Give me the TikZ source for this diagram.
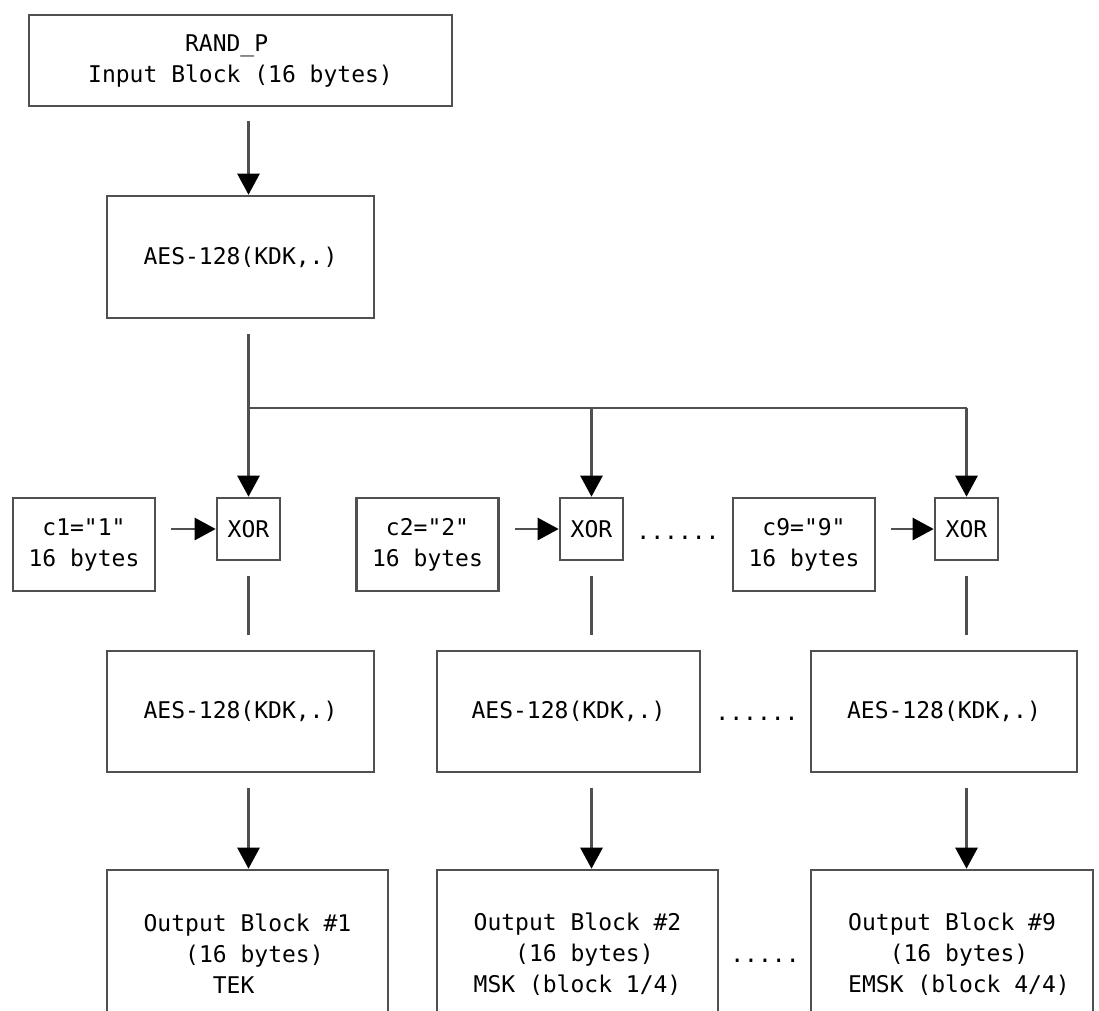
\documentclass[tikz,border=0pt]{standalone}
\usepackage{fontspec}
\newfontfamily\monof{DejaVu Sans Mono}
\usetikzlibrary{arrows.meta}
\definecolor{linec}{RGB}{80,80,80}
\begin{document}
\begin{tikzpicture}[x=1pt,y=-1pt,
  box/.style={draw=linec,line width=2.6pt,inner sep=0pt,text=black,
    font=\monof\fontsize{23}{31}\selectfont},
  conn/.style={draw=linec,line width=2.6pt},
  arr/.style={conn,-{Triangle[length=21pt,width=22pt,color=black]}},
  dotst/.style={inner sep=0pt,anchor=base,text=black,font=\monof\fontsize{23}{31}\selectfont}]
\useasboundingbox (0,0) rectangle (1099,1010);
\clip (0,0) rectangle (1099,1010);

% top
\node[box,minimum width=423pt,minimum height=91pt,align=left] (top) at (240.5,60.5)
  {\phantom{0000000}RAND\_P\\Input Block (16 bytes)};
\node[box,minimum width=267pt,minimum height=122pt] (aes1) at (240.5,257) {AES-128(KDK,.)};

% XOR row
\node[box,minimum width=63pt,minimum height=62pt] (xor1) at (248.5,529) {XOR};
\node[box,minimum width=63pt,minimum height=62pt] (xor2) at (591.5,529) {XOR};
\node[box,minimum width=63pt,minimum height=62pt] (xor3) at (966.5,529) {XOR};
\node[box,minimum width=142pt,minimum height=93pt,align=center] (c1) at (84,544.5) {c1="1"\\16 bytes};
\node[box,minimum width=142pt,minimum height=93pt,align=center] (c2) at (427.5,544.5) {c2="2"\\16 bytes};
\node[box,minimum width=142pt,minimum height=93pt,align=center] (c9) at (804,544.5) {c9="9"\\16 bytes};
\node[dotst] (d1) at (678,539) {......};

% AES row
\node[box,minimum width=267pt,minimum height=121pt] (aes2) at (240.5,711.5) {AES-128(KDK,.)};
\node[box,minimum width=263pt,minimum height=121pt] (aes3) at (568.5,711.5) {AES-128(KDK,.)};
\node[box,minimum width=266pt,minimum height=121pt] (aes4) at (944,711.5) {AES-128(KDK,.)};
\node[dotst] (d2) at (757,720) {......};

% Output row
\node[box,minimum width=281pt,minimum height=168pt,align=left] (out1) at (247.5,954)
  {Output Block \#1\\\phantom{000}(16 bytes)\\\phantom{00000}TEK};
\node[box,minimum width=281pt,minimum height=168pt,align=left] (out2) at (577.5,954)
  {Output Block \#2\\\phantom{000}(16 bytes)\\MSK (block 1/4)};
\node[box,minimum width=282pt,minimum height=168pt,align=left] (out3) at (952,954)
  {\hspace*{14pt}Output Block \#9\\\hspace*{14pt}\phantom{000}(16 bytes)\\\hspace*{14pt}EMSK (block 4/4)};
\node[dotst] (d3) at (765,962) {.....};

% connectors
\coordinate (jn) at (248.5,408);
\coordinate (j3) at (966.5,408);
\draw[arr,shorten <=14pt] (top.south -| xor1) -- (aes1.north -| xor1);
\draw[conn,shorten <=15pt] (aes1.south -| xor1) -- (jn);
\draw[arr] (jn) -- (xor1.north);
\draw[conn] (jn) -- (j3);
\draw[arr] (jn -| xor2) -- (xor2.north);
\draw[arr] (j3) -- (xor3.north);

\draw[arr,shorten <=15pt] (c1.east |- xor1) -- (xor1.west);
\draw[arr,shorten <=15pt] (c2.east |- xor2) -- (xor2.west);
\draw[arr,shorten <=15pt] (c9.east |- xor3) -- (xor3.west);

\draw[conn,shorten <=15pt,shorten >=15pt] (xor1.south) -- (aes2.north -| xor1);
\draw[conn,shorten <=15pt,shorten >=15pt] (xor2.south) -- (aes3.north -| xor2);
\draw[conn,shorten <=15pt,shorten >=15pt] (xor3.south) -- (aes4.north -| xor3);

\draw[arr,shorten <=15pt] (aes2.south -| xor1) -- (out1.north -| xor1);
\draw[arr,shorten <=15pt] (aes3.south -| xor2) -- (out2.north -| xor2);
\draw[arr,shorten <=15pt] (aes4.south -| xor3) -- (out3.north -| xor3);
\end{tikzpicture}
\end{document}
